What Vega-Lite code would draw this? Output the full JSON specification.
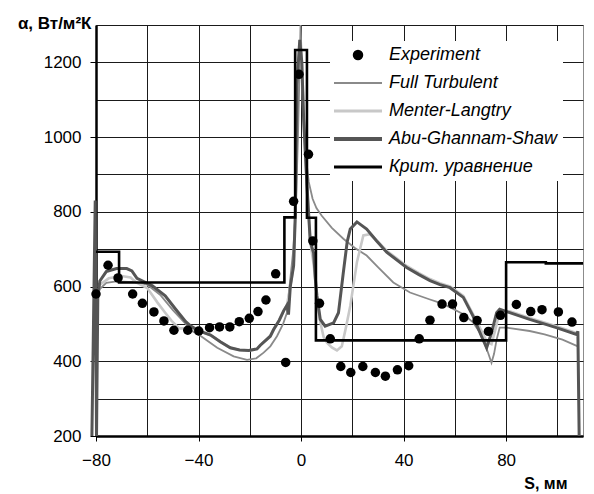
{
  "$schema": "https://vega.github.io/schema/vega-lite/v6.json",
  "width": 487,
  "height": 411,
  "autosize": {"type": "none"},
  "padding": {"left": 96, "top": 25, "right": 11, "bottom": 58},
  "background": "white",
  "config": {
    "font": "Liberation Sans",
    "view": {"stroke": "#8c8c8c", "strokeWidth": 1}
  },
  "datasets": {
    "exp": [
      {"s": "Experiment", "x": -80, "y": 580}, {"s": "Experiment", "x": -75.3, "y": 657}, {"s": "Experiment", "x": -71.4, "y": 623},
      {"s": "Experiment", "x": -65.7, "y": 580}, {"s": "Experiment", "x": -61.9, "y": 555}, {"s": "Experiment", "x": -57.4, "y": 532},
      {"s": "Experiment", "x": -53.5, "y": 508}, {"s": "Experiment", "x": -49.6, "y": 483}, {"s": "Experiment", "x": -44.2, "y": 483},
      {"s": "Experiment", "x": -39.9, "y": 481}, {"s": "Experiment", "x": -35.7, "y": 490}, {"s": "Experiment", "x": -31.8, "y": 492},
      {"s": "Experiment", "x": -27.8, "y": 492}, {"s": "Experiment", "x": -24.1, "y": 506}, {"s": "Experiment", "x": -20.2, "y": 515},
      {"s": "Experiment", "x": -16.8, "y": 533}, {"s": "Experiment", "x": -13.7, "y": 564}, {"s": "Experiment", "x": -9.9, "y": 634},
      {"s": "Experiment", "x": -6.0, "y": 397}, {"s": "Experiment", "x": -2.9, "y": 828}, {"s": "Experiment", "x": -0.8, "y": 1168},
      {"s": "Experiment", "x": 2.9, "y": 954}, {"s": "Experiment", "x": 4.6, "y": 722}, {"s": "Experiment", "x": 7.2, "y": 555},
      {"s": "Experiment", "x": 11.4, "y": 460}, {"s": "Experiment", "x": 15.5, "y": 386}, {"s": "Experiment", "x": 19.4, "y": 370},
      {"s": "Experiment", "x": 24.1, "y": 386}, {"s": "Experiment", "x": 29.0, "y": 370}, {"s": "Experiment", "x": 32.9, "y": 360},
      {"s": "Experiment", "x": 37.6, "y": 377}, {"s": "Experiment", "x": 42.0, "y": 388}, {"s": "Experiment", "x": 46.1, "y": 460},
      {"s": "Experiment", "x": 50.3, "y": 510}, {"s": "Experiment", "x": 55.0, "y": 553}, {"s": "Experiment", "x": 59.1, "y": 553},
      {"s": "Experiment", "x": 63.5, "y": 517}, {"s": "Experiment", "x": 68.7, "y": 509}, {"s": "Experiment", "x": 73.1, "y": 480},
      {"s": "Experiment", "x": 77.8, "y": 523}, {"s": "Experiment", "x": 84.0, "y": 552}, {"s": "Experiment", "x": 89.6, "y": 533},
      {"s": "Experiment", "x": 94.0, "y": 538}, {"s": "Experiment", "x": 100.4, "y": 532}, {"s": "Experiment", "x": 105.7, "y": 505}
    ],
    "ft": [
      {"s": "Full Turbulent", "x": -79.8, "y": 560}, {"s": "Full Turbulent", "x": -79, "y": 590}, {"s": "Full Turbulent", "x": -76, "y": 610},
      {"s": "Full Turbulent", "x": -72, "y": 614}, {"s": "Full Turbulent", "x": -65, "y": 612}, {"s": "Full Turbulent", "x": -60, "y": 605},
      {"s": "Full Turbulent", "x": -55, "y": 578}, {"s": "Full Turbulent", "x": -50, "y": 537}, {"s": "Full Turbulent", "x": -45, "y": 500},
      {"s": "Full Turbulent", "x": -43, "y": 483}, {"s": "Full Turbulent", "x": -39, "y": 467}, {"s": "Full Turbulent", "x": -36, "y": 452},
      {"s": "Full Turbulent", "x": -32.7, "y": 436}, {"s": "Full Turbulent", "x": -26.3, "y": 413}, {"s": "Full Turbulent", "x": -21.1, "y": 404},
      {"s": "Full Turbulent", "x": -17.5, "y": 408}, {"s": "Full Turbulent", "x": -14.6, "y": 423}, {"s": "Full Turbulent", "x": -12, "y": 440},
      {"s": "Full Turbulent", "x": -9.4, "y": 467}, {"s": "Full Turbulent", "x": -7, "y": 500}, {"s": "Full Turbulent", "x": -5.5, "y": 530},
      {"s": "Full Turbulent", "x": -4.2, "y": 620}, {"s": "Full Turbulent", "x": -3, "y": 700}, {"s": "Full Turbulent", "x": -2, "y": 820},
      {"s": "Full Turbulent", "x": -1.2, "y": 1000}, {"s": "Full Turbulent", "x": -0.5, "y": 1200}, {"s": "Full Turbulent", "x": -0.2, "y": 1300},
      {"s": "Full Turbulent", "x": 0.3, "y": 1200}, {"s": "Full Turbulent", "x": 1, "y": 1050}, {"s": "Full Turbulent", "x": 2, "y": 940},
      {"s": "Full Turbulent", "x": 3, "y": 880}, {"s": "Full Turbulent", "x": 4.5, "y": 835}, {"s": "Full Turbulent", "x": 6, "y": 810},
      {"s": "Full Turbulent", "x": 8, "y": 790}, {"s": "Full Turbulent", "x": 12, "y": 757}, {"s": "Full Turbulent", "x": 16.5, "y": 728},
      {"s": "Full Turbulent", "x": 21, "y": 703}, {"s": "Full Turbulent", "x": 25.6, "y": 683}, {"s": "Full Turbulent", "x": 30, "y": 652},
      {"s": "Full Turbulent", "x": 36, "y": 611}, {"s": "Full Turbulent", "x": 42.5, "y": 584}, {"s": "Full Turbulent", "x": 50, "y": 566},
      {"s": "Full Turbulent", "x": 54, "y": 557}, {"s": "Full Turbulent", "x": 58, "y": 545}, {"s": "Full Turbulent", "x": 63.3, "y": 526},
      {"s": "Full Turbulent", "x": 67, "y": 505}, {"s": "Full Turbulent", "x": 69.8, "y": 476}, {"s": "Full Turbulent", "x": 71.5, "y": 450},
      {"s": "Full Turbulent", "x": 73, "y": 422}, {"s": "Full Turbulent", "x": 74.3, "y": 396}, {"s": "Full Turbulent", "x": 75.3, "y": 420},
      {"s": "Full Turbulent", "x": 76.3, "y": 458}, {"s": "Full Turbulent", "x": 77.5, "y": 490}, {"s": "Full Turbulent", "x": 80, "y": 490},
      {"s": "Full Turbulent", "x": 89.2, "y": 481}, {"s": "Full Turbulent", "x": 95, "y": 472}, {"s": "Full Turbulent", "x": 102, "y": 458},
      {"s": "Full Turbulent", "x": 108, "y": 440}
    ],
    "ml": [
      {"s": "Menter-Langtry", "x": -79.6, "y": 560}, {"s": "Menter-Langtry", "x": -78.5, "y": 605}, {"s": "Menter-Langtry", "x": -75, "y": 622},
      {"s": "Menter-Langtry", "x": -70, "y": 628}, {"s": "Menter-Langtry", "x": -66.5, "y": 624}, {"s": "Menter-Langtry", "x": -64.5, "y": 612},
      {"s": "Menter-Langtry", "x": -60, "y": 596}, {"s": "Menter-Langtry", "x": -56, "y": 557}, {"s": "Menter-Langtry", "x": -53, "y": 530},
      {"s": "Menter-Langtry", "x": -50.5, "y": 508}, {"s": "Menter-Langtry", "x": -47.5, "y": 488}, {"s": "Menter-Langtry", "x": -44, "y": 488},
      {"s": "Menter-Langtry", "x": -40, "y": 481}, {"s": "Menter-Langtry", "x": -35.3, "y": 470}, {"s": "Menter-Langtry", "x": -31.5, "y": 452},
      {"s": "Menter-Langtry", "x": -27.6, "y": 436}, {"s": "Menter-Langtry", "x": -24, "y": 430}, {"s": "Menter-Langtry", "x": -20.4, "y": 429},
      {"s": "Menter-Langtry", "x": -17.2, "y": 433}, {"s": "Menter-Langtry", "x": -15.9, "y": 443}, {"s": "Menter-Langtry", "x": -12, "y": 467},
      {"s": "Menter-Langtry", "x": -10.7, "y": 485}, {"s": "Menter-Langtry", "x": -8.5, "y": 510}, {"s": "Menter-Langtry", "x": -6.8, "y": 535},
      {"s": "Menter-Langtry", "x": -5.5, "y": 550}, {"s": "Menter-Langtry", "x": -4.2, "y": 600}, {"s": "Menter-Langtry", "x": -2.9, "y": 656},
      {"s": "Menter-Langtry", "x": -2.2, "y": 800}, {"s": "Menter-Langtry", "x": -1.6, "y": 1140}, {"s": "Menter-Langtry", "x": -0.5, "y": 1250},
      {"s": "Menter-Langtry", "x": 0.3, "y": 1200}, {"s": "Menter-Langtry", "x": 1, "y": 1050}, {"s": "Menter-Langtry", "x": 2.3, "y": 871},
      {"s": "Menter-Langtry", "x": 3.6, "y": 720}, {"s": "Menter-Langtry", "x": 4.9, "y": 660}, {"s": "Menter-Langtry", "x": 6.2, "y": 570},
      {"s": "Menter-Langtry", "x": 7.5, "y": 505}, {"s": "Menter-Langtry", "x": 8.8, "y": 465}, {"s": "Menter-Langtry", "x": 10.1, "y": 450},
      {"s": "Menter-Langtry", "x": 12, "y": 437}, {"s": "Menter-Langtry", "x": 14, "y": 429}, {"s": "Menter-Langtry", "x": 15.9, "y": 440},
      {"s": "Menter-Langtry", "x": 17.5, "y": 490}, {"s": "Menter-Langtry", "x": 19.2, "y": 548}, {"s": "Menter-Langtry", "x": 21.8, "y": 665},
      {"s": "Menter-Langtry", "x": 24.3, "y": 737}, {"s": "Menter-Langtry", "x": 26.9, "y": 740}, {"s": "Menter-Langtry", "x": 30, "y": 720},
      {"s": "Menter-Langtry", "x": 33.4, "y": 696}, {"s": "Menter-Langtry", "x": 41.2, "y": 655}, {"s": "Menter-Langtry", "x": 46, "y": 636},
      {"s": "Menter-Langtry", "x": 50.3, "y": 620}, {"s": "Menter-Langtry", "x": 54.2, "y": 609}, {"s": "Menter-Langtry", "x": 58.1, "y": 600},
      {"s": "Menter-Langtry", "x": 63.3, "y": 575}, {"s": "Menter-Langtry", "x": 67.1, "y": 526}, {"s": "Menter-Langtry", "x": 70, "y": 487},
      {"s": "Menter-Langtry", "x": 72.5, "y": 452}, {"s": "Menter-Langtry", "x": 74.3, "y": 446}, {"s": "Menter-Langtry", "x": 76, "y": 490},
      {"s": "Menter-Langtry", "x": 77.5, "y": 535}, {"s": "Menter-Langtry", "x": 81.4, "y": 534}, {"s": "Menter-Langtry", "x": 89.2, "y": 516},
      {"s": "Menter-Langtry", "x": 99.6, "y": 494}, {"s": "Menter-Langtry", "x": 107.4, "y": 476}
    ],
    "ags": [
      {"s": "Abu-Ghannam-Shaw", "x": -81.6, "y": 200}, {"s": "Abu-Ghannam-Shaw", "x": -80.3, "y": 830}, {"s": "Abu-Ghannam-Shaw", "x": -79.8, "y": 200},
      {"s": "Abu-Ghannam-Shaw", "x": -79.3, "y": 570}, {"s": "Abu-Ghannam-Shaw", "x": -78.5, "y": 615}, {"s": "Abu-Ghannam-Shaw", "x": -76, "y": 640},
      {"s": "Abu-Ghannam-Shaw", "x": -72, "y": 648}, {"s": "Abu-Ghannam-Shaw", "x": -68, "y": 648}, {"s": "Abu-Ghannam-Shaw", "x": -66, "y": 642},
      {"s": "Abu-Ghannam-Shaw", "x": -64, "y": 622}, {"s": "Abu-Ghannam-Shaw", "x": -58, "y": 602}, {"s": "Abu-Ghannam-Shaw", "x": -53, "y": 575},
      {"s": "Abu-Ghannam-Shaw", "x": -49, "y": 540}, {"s": "Abu-Ghannam-Shaw", "x": -45, "y": 506}, {"s": "Abu-Ghannam-Shaw", "x": -43, "y": 494},
      {"s": "Abu-Ghannam-Shaw", "x": -40, "y": 482}, {"s": "Abu-Ghannam-Shaw", "x": -35.3, "y": 470}, {"s": "Abu-Ghannam-Shaw", "x": -31.5, "y": 452},
      {"s": "Abu-Ghannam-Shaw", "x": -27.6, "y": 436}, {"s": "Abu-Ghannam-Shaw", "x": -24, "y": 430}, {"s": "Abu-Ghannam-Shaw", "x": -20.4, "y": 429},
      {"s": "Abu-Ghannam-Shaw", "x": -17.2, "y": 433}, {"s": "Abu-Ghannam-Shaw", "x": -15.9, "y": 443}, {"s": "Abu-Ghannam-Shaw", "x": -12, "y": 467},
      {"s": "Abu-Ghannam-Shaw", "x": -10.7, "y": 485}, {"s": "Abu-Ghannam-Shaw", "x": -8.5, "y": 510}, {"s": "Abu-Ghannam-Shaw", "x": -6.8, "y": 535},
      {"s": "Abu-Ghannam-Shaw", "x": -5.5, "y": 550}, {"s": "Abu-Ghannam-Shaw", "x": -4.9, "y": 525}, {"s": "Abu-Ghannam-Shaw", "x": -4.2, "y": 600},
      {"s": "Abu-Ghannam-Shaw", "x": -2.9, "y": 656}, {"s": "Abu-Ghannam-Shaw", "x": -2.2, "y": 800}, {"s": "Abu-Ghannam-Shaw", "x": -1.6, "y": 1140},
      {"s": "Abu-Ghannam-Shaw", "x": -0.5, "y": 1260}, {"s": "Abu-Ghannam-Shaw", "x": 0.3, "y": 1200}, {"s": "Abu-Ghannam-Shaw", "x": 1, "y": 1050},
      {"s": "Abu-Ghannam-Shaw", "x": 2.3, "y": 871}, {"s": "Abu-Ghannam-Shaw", "x": 3.6, "y": 720}, {"s": "Abu-Ghannam-Shaw", "x": 4.9, "y": 690},
      {"s": "Abu-Ghannam-Shaw", "x": 5.6, "y": 620}, {"s": "Abu-Ghannam-Shaw", "x": 6.2, "y": 575}, {"s": "Abu-Ghannam-Shaw", "x": 7.5, "y": 512},
      {"s": "Abu-Ghannam-Shaw", "x": 9.4, "y": 494}, {"s": "Abu-Ghannam-Shaw", "x": 12.7, "y": 503}, {"s": "Abu-Ghannam-Shaw", "x": 14.6, "y": 530},
      {"s": "Abu-Ghannam-Shaw", "x": 16.5, "y": 638}, {"s": "Abu-Ghannam-Shaw", "x": 18, "y": 720}, {"s": "Abu-Ghannam-Shaw", "x": 19.2, "y": 754},
      {"s": "Abu-Ghannam-Shaw", "x": 21.8, "y": 773}, {"s": "Abu-Ghannam-Shaw", "x": 25.6, "y": 754}, {"s": "Abu-Ghannam-Shaw", "x": 29.5, "y": 722},
      {"s": "Abu-Ghannam-Shaw", "x": 33.4, "y": 692}, {"s": "Abu-Ghannam-Shaw", "x": 41.2, "y": 651}, {"s": "Abu-Ghannam-Shaw", "x": 46, "y": 632},
      {"s": "Abu-Ghannam-Shaw", "x": 50.3, "y": 616}, {"s": "Abu-Ghannam-Shaw", "x": 54.2, "y": 605}, {"s": "Abu-Ghannam-Shaw", "x": 58.1, "y": 597},
      {"s": "Abu-Ghannam-Shaw", "x": 63.3, "y": 571}, {"s": "Abu-Ghannam-Shaw", "x": 67.1, "y": 521}, {"s": "Abu-Ghannam-Shaw", "x": 70.4, "y": 467},
      {"s": "Abu-Ghannam-Shaw", "x": 72.4, "y": 436}, {"s": "Abu-Ghannam-Shaw", "x": 74.3, "y": 476}, {"s": "Abu-Ghannam-Shaw", "x": 76.3, "y": 530},
      {"s": "Abu-Ghannam-Shaw", "x": 77.5, "y": 539}, {"s": "Abu-Ghannam-Shaw", "x": 81.4, "y": 530}, {"s": "Abu-Ghannam-Shaw", "x": 89.2, "y": 512},
      {"s": "Abu-Ghannam-Shaw", "x": 99.6, "y": 490}, {"s": "Abu-Ghannam-Shaw", "x": 107.4, "y": 472}, {"s": "Abu-Ghannam-Shaw", "x": 108, "y": 480},
      {"s": "Abu-Ghannam-Shaw", "x": 108.5, "y": 200}
    ],
    "krit": [
      {"s": "Крит. уравнение", "x": -80, "y": 693}, {"s": "Крит. уравнение", "x": -71, "y": 611}, {"s": "Крит. уравнение", "x": -6.5, "y": 785},
      {"s": "Крит. уравнение", "x": -2.3, "y": 1233}, {"s": "Крит. уравнение", "x": 2.3, "y": 784}, {"s": "Крит. уравнение", "x": 5.8, "y": 456},
      {"s": "Крит. уравнение", "x": 80, "y": 665}, {"s": "Крит. уравнение", "x": 95.5, "y": 662}, {"s": "Крит. уравнение", "x": 110, "y": 662}
    ]
  },
  "encoding": {
    "x": {
      "field": "x", "type": "quantitative",
      "scale": {"domain": [-80, 110], "nice": false, "zero": false},
      "axis": {
        "values": [-80, -60, -40, -20, 0, 20, 40, 60, 80, 100],
        "labelExpr": "datum.value % 40 === 0 ? datum.label : ''",
        "labelFlush": false, "labelOverlap": false,
        "labelFontSize": 17, "labelColor": "#000", "labelPadding": 11,
        "tickSize": 5, "tickColor": "#000", "tickWidth": 1,
        "tickOpacity": {"condition": {"test": "datum.value % 40 === 0", "value": 1}, "value": 0},
        "grid": true, "gridColor": "#1a1a1a", "gridWidth": 1, "gridOpacity": 1,
        "domainColor": "#000", "domainWidth": 2.5,
        "title": "S, мм", "titleFontSize": 16, "titleFontWeight": "bold", "titleColor": "#000",
        "titleX": 471, "titleY": 52, "titleAlign": "right", "titleBaseline": "alphabetic"
      }
    },
    "y": {
      "field": "y", "type": "quantitative",
      "scale": {"domain": [200, 1300], "nice": false, "zero": false},
      "axis": {
        "values": [200, 300, 400, 500, 600, 700, 800, 900, 1000, 1100, 1200, 1300],
        "labelExpr": "datum.value % 200 === 0 ? datum.label : ''",
        "labelOverlap": false, "labelFlush": false,
        "labelFontSize": 17, "labelColor": "#000", "labelPadding": 9,
        "tickSize": 6, "tickColor": "#000", "tickWidth": 1,
        "tickOpacity": {"condition": {"test": "datum.value % 200 === 0", "value": 1}, "value": 0},
        "grid": true, "gridColor": "#1a1a1a", "gridWidth": 1, "gridOpacity": 1,
        "domainColor": "#000", "domainWidth": 2.5,
        "format": "d",
        "title": "α, Вт/м²К", "titleFontSize": 17, "titleFontWeight": "bold", "titleColor": "#000",
        "titleAngle": 0, "titleX": -5, "titleY": 3, "titleAlign": "right", "titleBaseline": "alphabetic"
      }
    },
    "color": {
      "field": "s", "type": "nominal",
      "scale": {
        "domain": ["Experiment", "Full Turbulent", "Menter-Langtry", "Abu-Ghannam-Shaw", "Крит. уравнение"],
        "range": ["#000000", "#8a8a8a", "#c8c8c8", "#555555", "#000000"]
      },
      "legend": {
        "title": null, "orient": "none", "legendX": 234, "legendY": 16,
        "fillColor": "white", "padding": 5, "strokeColor": null,
        "labelFont": "Liberation Sans", "labelFontSize": 18, "labelFontStyle": "italic", "labelColor": "#000",
        "labelLimit": 0,
        "symbolSize": 100, "symbolOffset": 14, "labelOffset": 22, "rowPadding": 10,
        "encode": {
          "symbols": {
            "update": {
              "shape": {"signal": "datum.value === 'Experiment' ? 'circle' : 'stroke'"},
              "size": {"signal": "datum.value === 'Experiment' ? 110 : 2304"},
              "strokeWidth": {"signal": "datum.value === 'Experiment' ? 0 : datum.value === 'Full Turbulent' ? 2 : datum.value === 'Abu-Ghannam-Shaw' ? 4 : 3"},
              "fill": {"signal": "datum.value === 'Experiment' ? '#000000' : 'transparent'"},
              "stroke": {"signal": "datum.value === 'Full Turbulent' ? '#8a8a8a' : datum.value === 'Menter-Langtry' ? '#c8c8c8' : datum.value === 'Abu-Ghannam-Shaw' ? '#555555' : '#000000'"},
              "opacity": {"value": 1}
            }
          }
        }
      }
    }
  },
  "layer": [
    {"data": {"name": "ft"}, "mark": {"type": "line", "strokeWidth": 1.8}},
    {"data": {"name": "ml"}, "mark": {"type": "line", "strokeWidth": 2.6}},
    {"data": {"name": "ags"}, "mark": {"type": "line", "strokeWidth": 3}},
    {"data": {"name": "krit"}, "mark": {"type": "line", "strokeWidth": 2.6, "interpolate": "step-after"}},
    {"data": {"name": "exp"}, "mark": {"type": "point", "filled": true, "size": 90, "opacity": 1}}
  ]
}
